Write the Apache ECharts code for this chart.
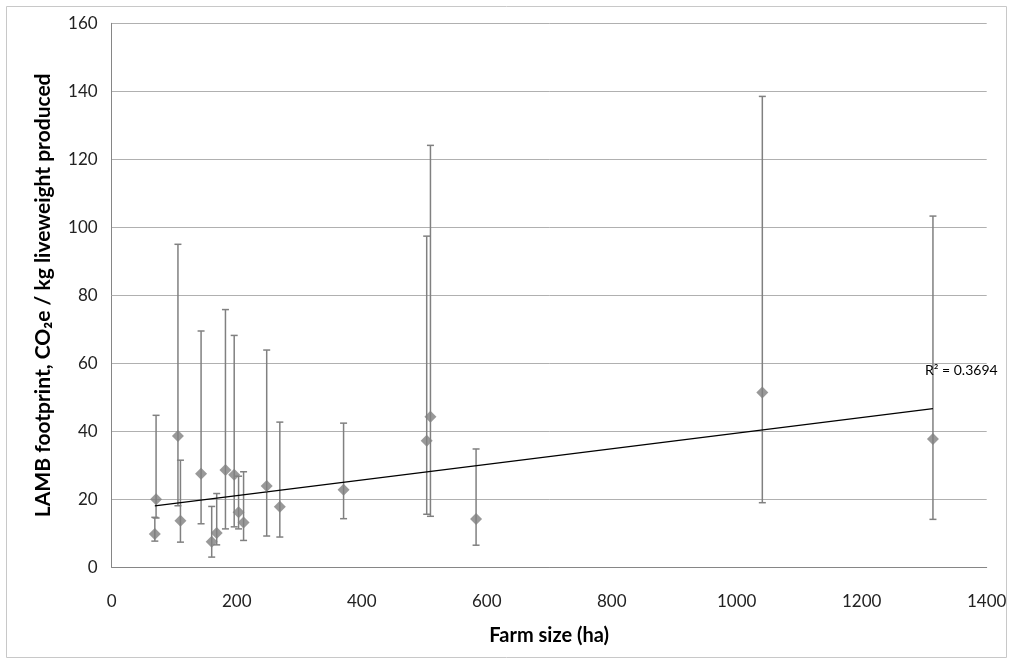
<!DOCTYPE html>
<html>
<head>
<meta charset="utf-8">
<script src="https://cdn.jsdelivr.net/npm/echarts@6/dist/echarts.min.js"></script>
<style>
  html, body { margin: 0; padding: 0; background: #ffffff; }
  #chart { width: 1013px; height: 664px; }
</style>
</head>
<body>
<div id="chart"></div>
<script>
// Farm size (ha) for each farm
const farmSize = [71, 69, 106, 110, 143, 160, 168, 182, 196, 203, 211, 248, 269, 371, 504, 510, 583, 1041, 1314];
// LAMB footprint, kg CO2e per kg liveweight produced
const footprint = [20.0, 9.8, 38.6, 13.7, 27.5, 7.5, 10.1, 28.6, 27.2, 16.2, 13.2, 23.9, 17.8, 22.8, 37.2, 44.3, 14.2, 51.4, 37.7];
// Upper and lower ends of each error bar
const upperBound = [44.7, 14.7, 95.0, 31.5, 69.5, 17.9, 21.7, 75.8, 68.2, 26.8, 28.1, 63.9, 42.7, 42.4, 97.4, 124.1, 34.8, 138.5, 103.3];
const lowerBound = [14.5, 7.7, 18.1, 7.4, 12.8, 3.0, 6.6, 11.3, 11.9, 11.3, 7.9, 9.2, 8.9, 14.3, 15.6, 15.0, 6.5, 19.0, 14.1];
// Axis ranges
const xRange = { min: 0, max: 1400, interval: 200 };
const yRange = { min: 0, max: 160, interval: 20 };
const r2Label = 'R² = 0.3694';

// Ordinary least-squares line through the farm points
function linearFit(xs, ys) {
  const n = xs.length;
  const mx = xs.reduce((a, b) => a + b, 0) / n;
  const my = ys.reduce((a, b) => a + b, 0) / n;
  let sxy = 0, sxx = 0;
  for (let i = 0; i < n; i++) {
    sxy += (xs[i] - mx) * (ys[i] - my);
    sxx += (xs[i] - mx) * (xs[i] - mx);
  }
  const slope = sxy / sxx;
  return { slope, intercept: my - slope * mx };
}
const fit = linearFit(farmSize, footprint);
const xLo = Math.min(...farmSize);
const xHi = Math.max(...farmSize);
const trendData = [
  [xLo, fit.intercept + fit.slope * xLo],
  [xHi, fit.intercept + fit.slope * xHi]
];

const pointData = farmSize.map((x, i) => [x, footprint[i]]);
const barData = farmSize.map((x, i) => [x, lowerBound[i], upperBound[i]]);

const FONT = 'Lato, "Liberation Sans", sans-serif';
const MARK = '#808080';

const chart = echarts.init(document.getElementById('chart'), null, { renderer: 'canvas' });

chart.setOption({
  animation: false,
  backgroundColor: '#ffffff',
  grid: { left: 111.7, right: 26.3, top: 23.3, bottom: 96.7, containLabel: false },
  xAxis: {
    type: 'value',
    min: xRange.min, max: xRange.max, interval: xRange.interval,
    name: 'Farm size (ha)',
    nameLocation: 'middle',
    nameGap: 58,
    nameTextStyle: { fontFamily: FONT, fontSize: 20, fontWeight: 'bold', color: '#000' },
    axisLine: { show: true, lineStyle: { color: '#868686', width: 1 } },
    axisTick: { show: false },
    splitLine: { show: false },
    axisLabel: { fontFamily: FONT, fontSize: 17, color: '#222', margin: 26, formatter: v => String(v) }
  },
  yAxis: {
    type: 'value',
    min: yRange.min, max: yRange.max, interval: yRange.interval,
    name: 'LAMB footprint, CO₂e / kg liveweight produced',
    nameLocation: 'middle',
    nameGap: 58,
    nameTextStyle: { fontFamily: FONT, fontSize: 21, fontWeight: 'bold', color: '#000' },
    axisLine: { show: true, lineStyle: { color: '#868686', width: 1 } },
    axisTick: { show: false },
    splitLine: { show: true, lineStyle: { color: '#b0b0b0', width: 1 } },
    axisLabel: { fontFamily: FONT, fontSize: 17, color: '#222', margin: 14, formatter: v => String(v) }
  },
  graphic: [
    {
      type: 'rect',
      shape: { x: 6.5, y: 6.5, width: 1000, height: 651 },
      style: { fill: 'none', stroke: '#c8c8c8', lineWidth: 1 },
      silent: true, z: -10
    },
    {
      type: 'text',
      left: 925, top: 363,
      style: { text: r2Label, font: '14px ' + FONT, fill: '#000' },
      z: 20
    }
  ],
  series: [
    {
      name: 'error bars',
      type: 'custom',
      data: barData,
      z: 2,
      renderItem: function (params, api) {
        const x = api.value(0);
        const lo = api.coord([x, api.value(1)]);
        const hi = api.coord([x, api.value(2)]);
        const cap = 3.5;
        const style = { stroke: MARK, lineWidth: 1.5 };
        return {
          type: 'group',
          children: [
            { type: 'line', shape: { x1: lo[0], y1: lo[1], x2: hi[0], y2: hi[1] }, style },
            { type: 'line', shape: { x1: hi[0] - cap, y1: hi[1], x2: hi[0] + cap, y2: hi[1] }, style },
            { type: 'line', shape: { x1: lo[0] - cap, y1: lo[1], x2: lo[0] + cap, y2: lo[1] }, style }
          ]
        };
      }
    },
    {
      name: 'trend',
      type: 'line',
      data: trendData,
      showSymbol: false,
      symbol: 'none',
      z: 3,
      lineStyle: { color: '#000', width: 1.2 }
    },
    {
      name: 'farms',
      type: 'scatter',
      data: pointData,
      symbol: 'diamond',
      symbolSize: 12,
      z: 4,
      itemStyle: { color: MARK }
    }
  ]
});
</script>
</body>
</html>
